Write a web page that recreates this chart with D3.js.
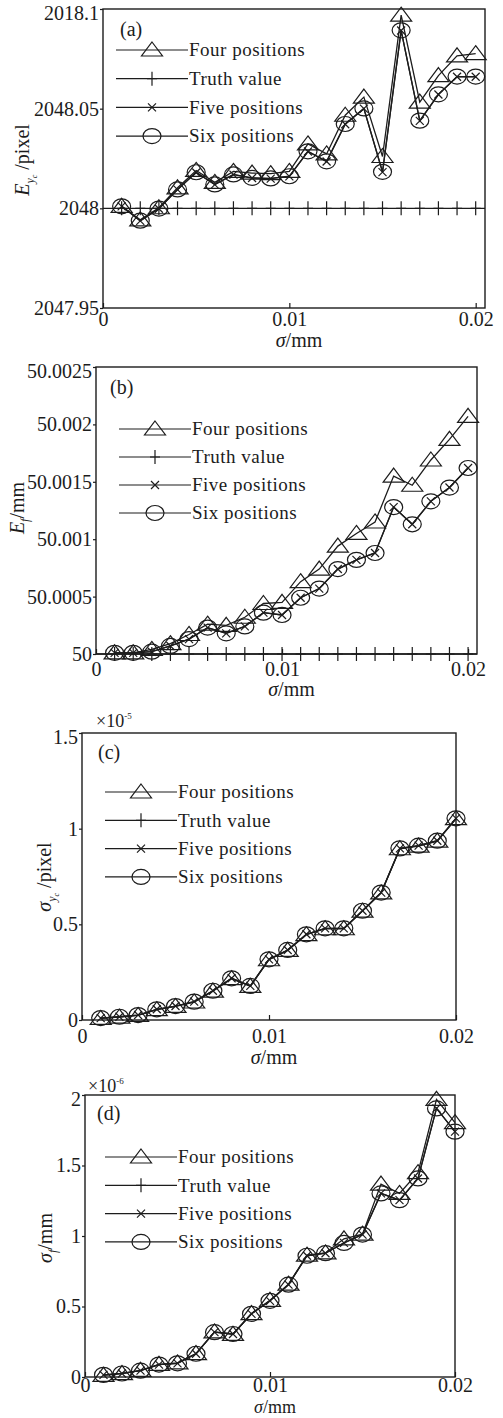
<!DOCTYPE html>
<html>
<head>
<meta charset="utf-8">
<script src="https://cdn.jsdelivr.net/npm/d3@7"></script>
<style>
  body { margin: 0; background: #fff; }
  svg text { font-family: "Liberation Serif", "Times New Roman", serif; fill: #1c1c1c; }
</style>
</head>
<body>
<svg id="chart" width="503" height="1418"></svg>
<script>
// sigma values (mm)
const sigma = [0.001, 0.002, 0.003, 0.004, 0.005, 0.006, 0.007, 0.008, 0.009, 0.010,
               0.011, 0.012, 0.013, 0.014, 0.015, 0.016, 0.017, 0.018, 0.019, 0.020]

const seriesNames = ["Four positions", "Truth value", "Five positions", "Six positions"]
const xTicks = [0, 0.01, 0.02]
const xTickLabels = ["0", "0.01", "0.02"]

// (a) E_yc / pixel
const aFour = [2048.001, 2047.9942, 2048.0003, 2048.0103, 2048.019, 2048.013, 2048.0185, 2048.0177, 2048.0174, 2048.0185,
               2048.0323, 2048.0273, 2048.0467, 2048.0558, 2048.026, 2048.0969, 2048.0533, 2048.0666, 2048.0765, 2048.0776]
const aTruth = [2048, 2048, 2048, 2048, 2048, 2048, 2048, 2048, 2048, 2048,
                2048, 2048, 2048, 2048, 2048, 2048, 2048, 2048, 2048, 2048]
const aFive = [2048.001, 2047.9937, 2047.9998, 2048.0094, 2048.018, 2048.0119, 2048.0169, 2048.0152, 2048.0149, 2048.016,
               2048.0285, 2048.0235, 2048.0422, 2048.05, 2048.0182, 2048.0892, 2048.0439, 2048.0571, 2048.066, 2048.066]
const aSix = [2048.001, 2047.9938, 2047.9999, 2048.0095, 2048.0181, 2048.012, 2048.017, 2048.0153, 2048.015, 2048.0161,
              2048.0286, 2048.0236, 2048.0423, 2048.0501, 2048.0183, 2048.0893, 2048.044, 2048.0572, 2048.0661, 2048.0661]
const aYTicks = [2047.95, 2048, 2048.05, 2048.1]
const aYTickLabels = ["2047.95", "2048", "2048.05", "2018.1"]

// (b) E_f / mm
const bFour = [50.00001, 50.00001, 50.00004, 50.00009, 50.00017, 50.00026, 50.00025, 50.00032, 50.00044, 50.00045,
               50.00063, 50.00074, 50.00094, 50.00105, 50.00115, 50.00155, 50.00147, 50.00169, 50.00187, 50.00207]
const bTruth = [50, 50, 50, 50, 50, 50, 50, 50, 50, 50,
                50, 50, 50, 50, 50, 50, 50, 50, 50, 50]
const bFive = [50.00001, 50.00001, 50.00002, 50.00007, 50.00013, 50.00023, 50.00018, 50.00024, 50.00036, 50.00034,
               50.00049, 50.00057, 50.00074, 50.00082, 50.00088, 50.00128, 50.00113, 50.00133, 50.00145, 50.00162]
const bSix = [50.00001, 50.00001, 50.00002, 50.00007, 50.00013, 50.00023, 50.00018, 50.00024, 50.00036, 50.00034,
              50.00049, 50.00057, 50.00074, 50.00082, 50.00088, 50.00128, 50.00113, 50.00133, 50.00145, 50.00162]
const bYTicks = [50, 50.0005, 50.001, 50.0015, 50.002, 50.0025]
const bYTickLabels = ["50", "50.0005", "50.001", "50.0015", "50.002", "50.0025"]

// (c) sigma_yc / pixel  (x10^-5)
const cFour = [0.008, 0.015, 0.024, 0.054, 0.071, 0.094, 0.151, 0.216, 0.176, 0.315,
               0.364, 0.446, 0.477, 0.477, 0.569, 0.664, 0.895, 0.909, 0.935, 1.052]
const cFive = [0.01, 0.017, 0.026, 0.056, 0.073, 0.096, 0.153, 0.218, 0.178, 0.317,
               0.366, 0.448, 0.479, 0.479, 0.571, 0.666, 0.897, 0.911, 0.937, 1.054]
const cSix = [0.01, 0.017, 0.026, 0.056, 0.073, 0.096, 0.153, 0.218, 0.178, 0.317,
              0.366, 0.448, 0.479, 0.479, 0.571, 0.666, 0.897, 0.911, 0.937, 1.054]
const cYTicks = [0, 0.5, 1, 1.5]
const cYTickLabels = ["0", "0.5", "1", "1.5"]

// (d) sigma_f / mm  (x10^-6)
const dFour = [0.012, 0.024, 0.047, 0.09, 0.1, 0.166, 0.32, 0.303, 0.45, 0.544,
               0.658, 0.864, 0.88, 0.98, 1.013, 1.368, 1.302, 1.449, 1.969, 1.804]
const dFive = [0.015, 0.025, 0.045, 0.088, 0.097, 0.165, 0.318, 0.305, 0.448, 0.54,
               0.655, 0.86, 0.878, 0.951, 1.01, 1.302, 1.254, 1.408, 1.905, 1.74]
const dSix = [0.015, 0.025, 0.045, 0.088, 0.097, 0.165, 0.318, 0.305, 0.448, 0.54,
              0.655, 0.86, 0.878, 0.951, 1.01, 1.302, 1.254, 1.408, 1.905, 1.74]
const dYTicks = [0, 0.5, 1, 1.5, 2]
const dYTickLabels = ["0", "0.5", "1", "1.5", "2"]

var svg = d3.select("#chart")

var panels = [
  { tag: "(a)", four: aFour, truth: aTruth, five: aFive, six: aSix,
    yDomain: [2047.95, 2048.1], yTicks: aYTicks, yLabels: aYTickLabels, xMax: 0.0205,
    box: { l: 103, r: 485, t: 9, b: 308 }, xPad: 4, tagPos: [120, 29],
    legend: { x: 116, y: 50, dy: 28.7 }, yTitle: "Eyc", yTitlePos: [22, 160], xTitleY: 340, xTitleSize: 20 },
  { tag: "(b)", four: bFour, truth: bTruth, five: bFive, six: bSix,
    yDomain: [50, 50.0025], yTicks: bYTicks, yLabels: bYTickLabels, xMax: 0.02048,
    box: { l: 96, r: 477, t: 367, b: 654 }, xPad: 8, tagPos: [110, 387],
    legend: { x: 119, y: 429, dy: 28 }, yTitle: "Ef", yTitlePos: [17, 508], xTitleY: 689, xTitleSize: 20 },
  { tag: "(c)", four: cFour, truth: null, five: cFive, six: cSix,
    yDomain: [0, 1.5], yTicks: cYTicks, yLabels: cYTickLabels, xMax: 0.02,
    box: { l: 82, r: 456, t: 733, b: 1020 }, xPad: 9, tagPos: [98, 752],
    legend: { x: 105, y: 792, dy: 28.3 }, yTitle: "syc", yTitlePos: [44, 877], xTitleY: 1057, xTitleSize: 20,
    expo: "-5", expoPos: [96, 721] },
  { tag: "(d)", four: dFour, truth: null, five: dFive, six: dSix,
    yDomain: [0, 2], yTicks: dYTicks, yLabels: dYTickLabels, xMax: 0.02,
    box: { l: 85, r: 455, t: 1095, b: 1377 }, xPad: 1, tagPos: [97, 1113],
    legend: { x: 105, y: 1157, dy: 28.3 }, yTitle: "sf", yTitlePos: [45, 1238], xTitleY: 1407, xTitleSize: 18,
    expo: "-6", expoPos: [88, 1086] }
]

// marker shapes
function markerPath(kind, x, y) {
  if (kind === "tri") return "M" + x + "," + (y - 8) + "L" + (x + 10.5) + "," + (y + 6) + "L" + (x - 10.5) + "," + (y + 6) + "Z"
  if (kind === "plus") return "M" + x + "," + (y - 7) + "V" + (y + 7) + "M" + (x - 5) + "," + y + "H" + (x + 5)
  if (kind === "cross") return "M" + (x - 4) + "," + (y - 4) + "L" + (x + 4) + "," + (y + 4) + "M" + (x + 4) + "," + (y - 4) + "L" + (x - 4) + "," + (y + 4)
  // ellipse as path
  var rx = 9, ry = 7.5
  return "M" + (x - rx) + "," + y + "A" + rx + "," + ry + " 0 1,0 " + (x + rx) + "," + y + "A" + rx + "," + ry + " 0 1,0 " + (x - rx) + "," + y + "Z"
}
var kinds = ["tri", "plus", "cross", "circ"]
var ink = "#1c1c1c"

panels.forEach(function(p) {
  var g = svg.append("g")
  var x = d3.scaleLinear().domain([0, p.xMax]).range([p.box.l, p.box.r])
  var y = d3.scaleLinear().domain(p.yDomain).range([p.box.b, p.box.t])

  /* ------- AXES -------*/
  var yAxis = d3.axisLeft(y).tickValues(p.yTicks).tickSizeInner(3).tickSizeOuter(0).tickPadding(1)
    .tickFormat(function(d, i) { return p.yLabels[i] })
  var ya = g.append("g").attr("transform", "translate(" + p.box.l + ",0)").call(yAxis)
  // top label sits a little below its tick, as in the original
  ya.selectAll(".tick").filter(function(d) { return d === p.yDomain[1] })
    .select("text").attr("dy", "0.5em")

  var xAxis = d3.axisBottom(x).tickValues(xTicks).tickSizeInner(-5).tickSizeOuter(0).tickPadding(p.xPad)
    .tickFormat(function(d, i) { return xTickLabels[i] })
  var xa = g.append("g").attr("transform", "translate(0," + p.box.b + ")").call(xAxis)

  ;[ya, xa].forEach(function(a) {
    a.select(".domain").remove()
    a.selectAll("line").attr("stroke", ink).attr("stroke-width", 1.2)
    a.selectAll("text").attr("font-size", 20).attr("font-family", "Liberation Serif").attr("fill", ink)
  })

  g.append("rect")
    .attr("x", p.box.l).attr("y", p.box.t)
    .attr("width", p.box.r - p.box.l).attr("height", p.box.b - p.box.t)
    .attr("fill", "none").attr("stroke", ink).attr("stroke-width", 1.4)

  /* ------- SERIES -------*/
  var line = d3.line().x(function(d, i) { return x(sigma[i]) }).y(function(d) { return y(d) })
  var data = [p.four, p.truth, p.five, p.six]
  data.forEach(function(vals, k) {
    if (!vals) return
    var sg = g.append("g").attr("class", "series")
    if (kinds[k] === "plus") {
      sg.append("line")
        .attr("x1", x(0)).attr("x2", x(p.xMax))
        .attr("y1", y(vals[0])).attr("y2", y(vals[0]))
        .attr("stroke", ink).attr("stroke-width", 1.3)
    } else {
      sg.append("path").datum(vals)
        .attr("d", line).attr("fill", "none").attr("stroke", ink).attr("stroke-width", 1.3)
    }
    sg.selectAll("path.m").data(vals).join("path")
      .attr("class", "m")
      .attr("d", function(d, i) { return markerPath(kinds[k], x(sigma[i]), y(d)) })
      .attr("fill", "none").attr("stroke", ink).attr("stroke-width", 1.2)
  })

  /* ------- LEGEND -------*/
  var lg = g.append("g")
  seriesNames.forEach(function(name, k) {
    var ly = p.legend.y + k * p.legend.dy
    lg.append("line").attr("x1", p.legend.x).attr("x2", p.legend.x + 72)
      .attr("y1", ly).attr("y2", ly).attr("stroke", ink).attr("stroke-width", 1.2)
    lg.append("path").attr("d", markerPath(kinds[k], p.legend.x + 36, ly))
      .attr("fill", "none").attr("stroke", ink).attr("stroke-width", 1.2)
    lg.append("text").attr("x", p.legend.x + 73).attr("y", ly).attr("dy", "0.33em")
      .attr("font-size", 19).attr("letter-spacing", 0.5).text(name)
  })

  // panel tag
  g.append("text").attr("x", p.tagPos[0]).attr("y", p.tagPos[1]).attr("dy", "0.35em")
    .attr("font-size", 20).text(p.tag)

  // exponent
  if (p.expo) {
    var ex = g.append("text").attr("x", p.expoPos[0]).attr("y", p.expoPos[1]).attr("dy", "0.35em").attr("font-size", 18)
    ex.append("tspan").text("×10")
    ex.append("tspan").attr("font-size", 9).attr("dy", -8).text(p.expo)
  }

  // x title
  var xt = g.append("text").attr("x", (p.box.l + p.box.r) / 2 + 5).attr("y", p.xTitleY).attr("dy", "0.35em")
    .attr("text-anchor", "middle").attr("font-size", p.xTitleSize)
  xt.append("tspan").attr("font-style", "italic").text("σ")
  xt.append("tspan").text("/mm")

  // y title
  var yt = g.append("text")
    .attr("transform", "translate(" + p.yTitlePos[0] + "," + p.yTitlePos[1] + ") rotate(-90)")
    .attr("text-anchor", "middle").attr("dy", "0.35em").attr("font-size", 20)
  var sym = p.yTitle[0] === "E" ? "E" : "σ"
  yt.append("tspan").attr("font-style", "italic").text(sym)
  if (p.yTitle.slice(1) === "yc") {
    yt.append("tspan").attr("font-style", "italic").attr("font-size", 12).attr("dy", 5).text("y")
    yt.append("tspan").attr("font-style", "italic").attr("font-size", 8).attr("dy", 3).text("c")
    yt.append("tspan").attr("dy", -8).text(" /pixel")
  } else {
    yt.append("tspan").attr("font-style", "italic").attr("font-size", 12).attr("dy", 5).text("f")
    yt.append("tspan").attr("dy", -5).text("/mm")
  }
})
</script>
</body>
</html>
